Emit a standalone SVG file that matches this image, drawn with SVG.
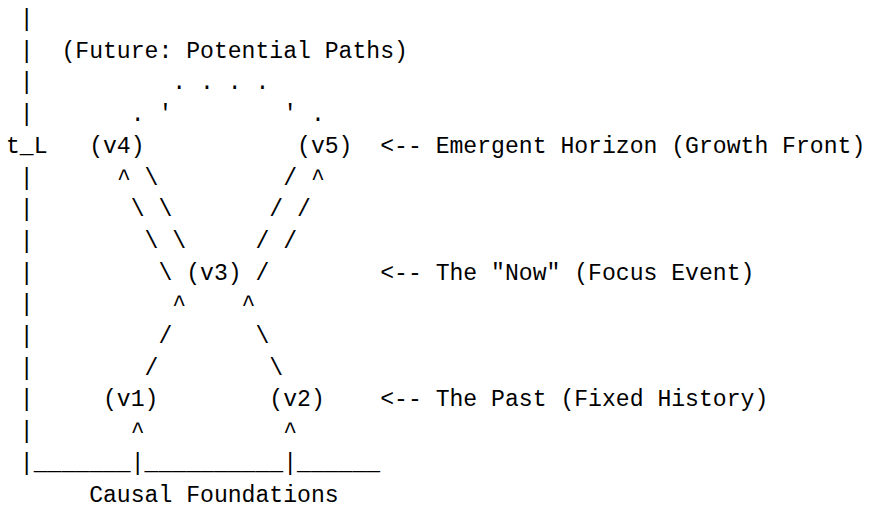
<svg xmlns="http://www.w3.org/2000/svg" width="869" height="507" viewBox="0 0 869 507">
<style>
text { font-family: "Liberation Mono", "DejaVu Sans Mono", monospace; font-size: 23.1px; fill: #000; white-space: pre; }
</style>
<rect x="0" y="0" width="869" height="507" fill="#fff"/>
<g id="axis">
  <text x="19.86" y="26">|</text>
  <text x="19.86" y="57.7">|</text>
  <text x="19.86" y="89.4">|</text>
  <text x="19.86" y="121.1">|</text>
  <text x="6" y="152.8">t_L</text>
  <text x="19.86" y="184.5">|</text>
  <text x="19.86" y="216.2">|</text>
  <text x="19.86" y="247.9">|</text>
  <text x="19.86" y="279.6">|</text>
  <text x="19.86" y="311.3">|</text>
  <text x="19.86" y="343">|</text>
  <text x="19.86" y="374.7">|</text>
  <text x="19.86" y="406.4">|</text>
  <text x="19.86" y="438.1">|</text>
  <text x="19.86" y="469.8">|_______|__________|______</text>
  <text x="89.16" y="501.5">Causal Foundations</text>
</g>
<g id="future">
  <text x="61.44" y="57.7">(Future: Potential Paths)</text>
</g>
<g id="connectors">
  <text x="172.32" y="89.4">. . . .</text>
  <text x="130.74" y="121.1">. '</text>
  <text x="283.2" y="121.1">' .</text>
  <text x="116.88" y="184.5">^</text>
  <text x="144.6" y="184.5">\</text>
  <text x="283.2" y="184.5">/</text>
  <text x="310.92" y="184.5">^</text>
  <text x="130.74" y="216.2">\</text>
  <text x="158.46" y="216.2">\</text>
  <text x="269.34" y="216.2">/</text>
  <text x="297.06" y="216.2">/</text>
  <text x="144.6" y="247.9">\</text>
  <text x="172.32" y="247.9">\</text>
  <text x="255.48" y="247.9">/</text>
  <text x="283.2" y="247.9">/</text>
  <text x="158.46" y="279.6">\</text>
  <text x="255.48" y="279.6">/</text>
  <text x="172.32" y="311.3">^</text>
  <text x="241.62" y="311.3">^</text>
  <text x="158.46" y="343">/</text>
  <text x="255.48" y="343">\</text>
  <text x="144.6" y="374.7">/</text>
  <text x="269.34" y="374.7">\</text>
  <text x="130.74" y="438.1">^</text>
  <text x="283.2" y="438.1">^</text>
</g>
<g id="v4"><text x="89.16" y="152.8">(v4)</text></g>
<g id="v5"><text x="297.06" y="152.8">(v5)</text></g>
<g id="v3"><text x="186.18" y="279.6">(v3)</text></g>
<g id="v1"><text x="103.02" y="406.4">(v1)</text></g>
<g id="v2"><text x="269.34" y="406.4">(v2)</text></g>
<g id="labels">
  <text x="380.22" y="152.8">&lt;-- Emergent Horizon (Growth Front)</text>
  <text x="380.22" y="279.6">&lt;-- The "Now" (Focus Event)</text>
  <text x="380.22" y="406.4">&lt;-- The Past (Fixed History)</text>
</g>
</svg>
